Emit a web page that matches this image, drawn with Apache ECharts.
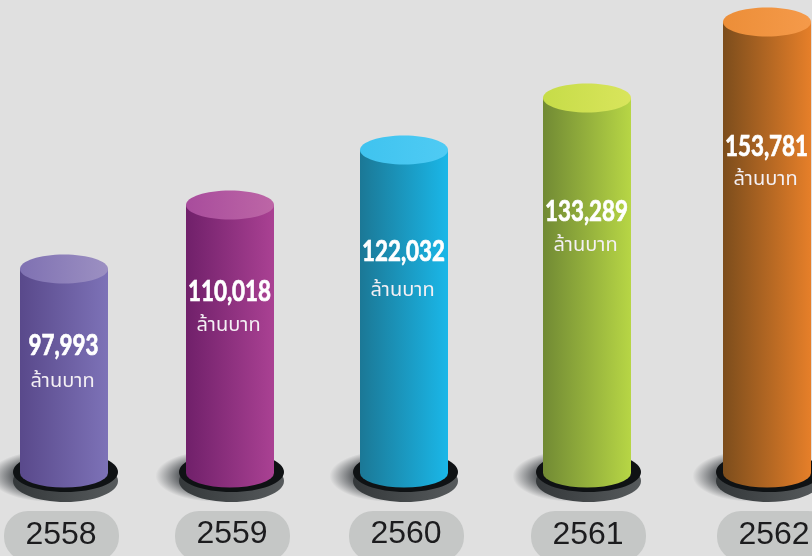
<!DOCTYPE html>
<html>
<head>
<meta charset="utf-8">
<style>
  html,body{margin:0;padding:0;background:#e0e0e0;overflow:hidden}
  #main{width:812px;height:556px}
</style>
<script src="https://cdn.jsdelivr.net/npm/echarts@6/dist/echarts.min.js"></script>
</head>
<body>
<div id="main"></div>
<script>
var years = ['2558','2559','2560','2561','2562'];
var amounts = [97993,110018,122032,133289,153781];
// the picture is not drawn to scale, so the bar heights are read off separately
var barHeights = [204,268,323,375,451];
var unitText = 'ล้านบาท';

// tweaks, in pixels, to get the uneven spacing of the original
var barNudge = [0,-10,-12,-5,-1];
var pillNudge = [-2.5,2.5,2.5,1.5,7.5];
var yearY = [535,534,534,535,535];
var amountY = [346,292,252,212,147];
var unitY = [383,327,292,247,181];

var bodyColors = [
    ['#59498b','#7d72b7'],
    ['#70206a','#aa4193'],
    ['#1b7896','#1ab7e8'],
    ['#718a34','#b7d645'],
    ['#7c4d1c','#e67f29']
];
var capColors = [
    ['#7f71b2','#9c90c2'],
    ['#a84c9c','#bd66a6'],
    ['#3fc3ef','#4fcbf4'],
    ['#c6dc48','#d9e55c'],
    ['#ec8e38','#f59a4a']
];

function hGrad(c){
    return new echarts.graphic.LinearGradient(0,0,1,0,[{offset:0,color:c[0]},{offset:1,color:c[1]}]);
}

function renderCylinder(params,api){
    var i = params.dataIndex;
    var top = api.coord([i,api.value(1)]);
    var bottom = api.coord([i,0]);
    var cx = top[0] + barNudge[i];
    var rx = 44, ry = 14.5;
    var baseX = cx + 1.5;
    var pillX = cx + pillNudge[i];
    return {
        type:'group',
        children:[
            // soft shadow left of the base
            {type:'circle',x:baseX-14,y:476,scaleY:0.42,shape:{cx:0,cy:0,r:62},
             style:{fill:new echarts.graphic.RadialGradient(0.5,0.5,0.5,[
                 {offset:0,color:'rgba(30,35,40,0.95)'},
                 {offset:0.6,color:'rgba(30,35,40,0.7)'},
                 {offset:1,color:'rgba(30,35,40,0)'}
             ])}},
            // base plate
            {type:'ellipse',shape:{cx:baseX,cy:481,rx:52.5,ry:21},
             style:{fill:new echarts.graphic.LinearGradient(0,0,1,0,[{offset:0,color:'#34383a'},{offset:1,color:'#565a5c'}])}},
            {type:'ellipse',shape:{cx:baseX,cy:472,rx:52.5,ry:20},style:{fill:'#0f1214'}},
            // body
            {type:'path',
             shape:{
                 pathData:'M'+(cx-rx)+' '+top[1]+'L'+(cx-rx)+' '+bottom[1]
                     +'A'+rx+' '+ry+' 0 0 0 '+(cx+rx)+' '+bottom[1]
                     +'L'+(cx+rx)+' '+top[1]+'Z'
             },
             style:{fill:hGrad(bodyColors[i])}},
            {type:'ellipse',shape:{cx:cx,cy:top[1],rx:rx,ry:ry},style:{fill:hGrad(capColors[i])}},
            // amount + unit
            {type:'text',x:cx-0.5,y:amountY[i],scaleX:0.8,
             style:{text:amounts[i].toLocaleString('en-US'),fill:'#fff',stroke:'#fff',lineWidth:0.7,
                    font:'bold 28px Lato, "Noto Sans", sans-serif',align:'center',verticalAlign:'middle'}},
            {type:'text',x:cx-1.5,y:unitY[i],
             style:{text:unitText,fill:'#f4f0f4',
                    font:'20px "Noto Sans Thai", "Noto Sans", "DejaVu Sans", sans-serif',align:'center',verticalAlign:'middle'}},
            // year pill
            {type:'rect',shape:{x:pillX-57.5,y:511,width:115,height:50,r:24},style:{fill:'#c5c7c6'}},
            {type:'text',x:pillX-0.5,y:yearY[i],
             style:{text:years[i],fill:'#1c1c1e',font:'32px "Liberation Sans", Arial, sans-serif',
                    align:'center',verticalAlign:'middle'}}
        ]
    };
}

var chart = echarts.init(document.getElementById('main'));
chart.setOption({
    backgroundColor:'#e0e0e0',
    animation:false,
    grid:{left:64,right:44,top:13,bottom:83},
    xAxis:{type:'category',data:years,boundaryGap:false,show:false},
    yAxis:{type:'value',min:0,max:460,show:false},
    series:[{
        type:'custom',
        renderItem:renderCylinder,
        clip:false,
        encode:{x:0,y:1},
        data:years.map(function(y,i){return [y,barHeights[i]];})
    }]
});
</script>
</body>
</html>
